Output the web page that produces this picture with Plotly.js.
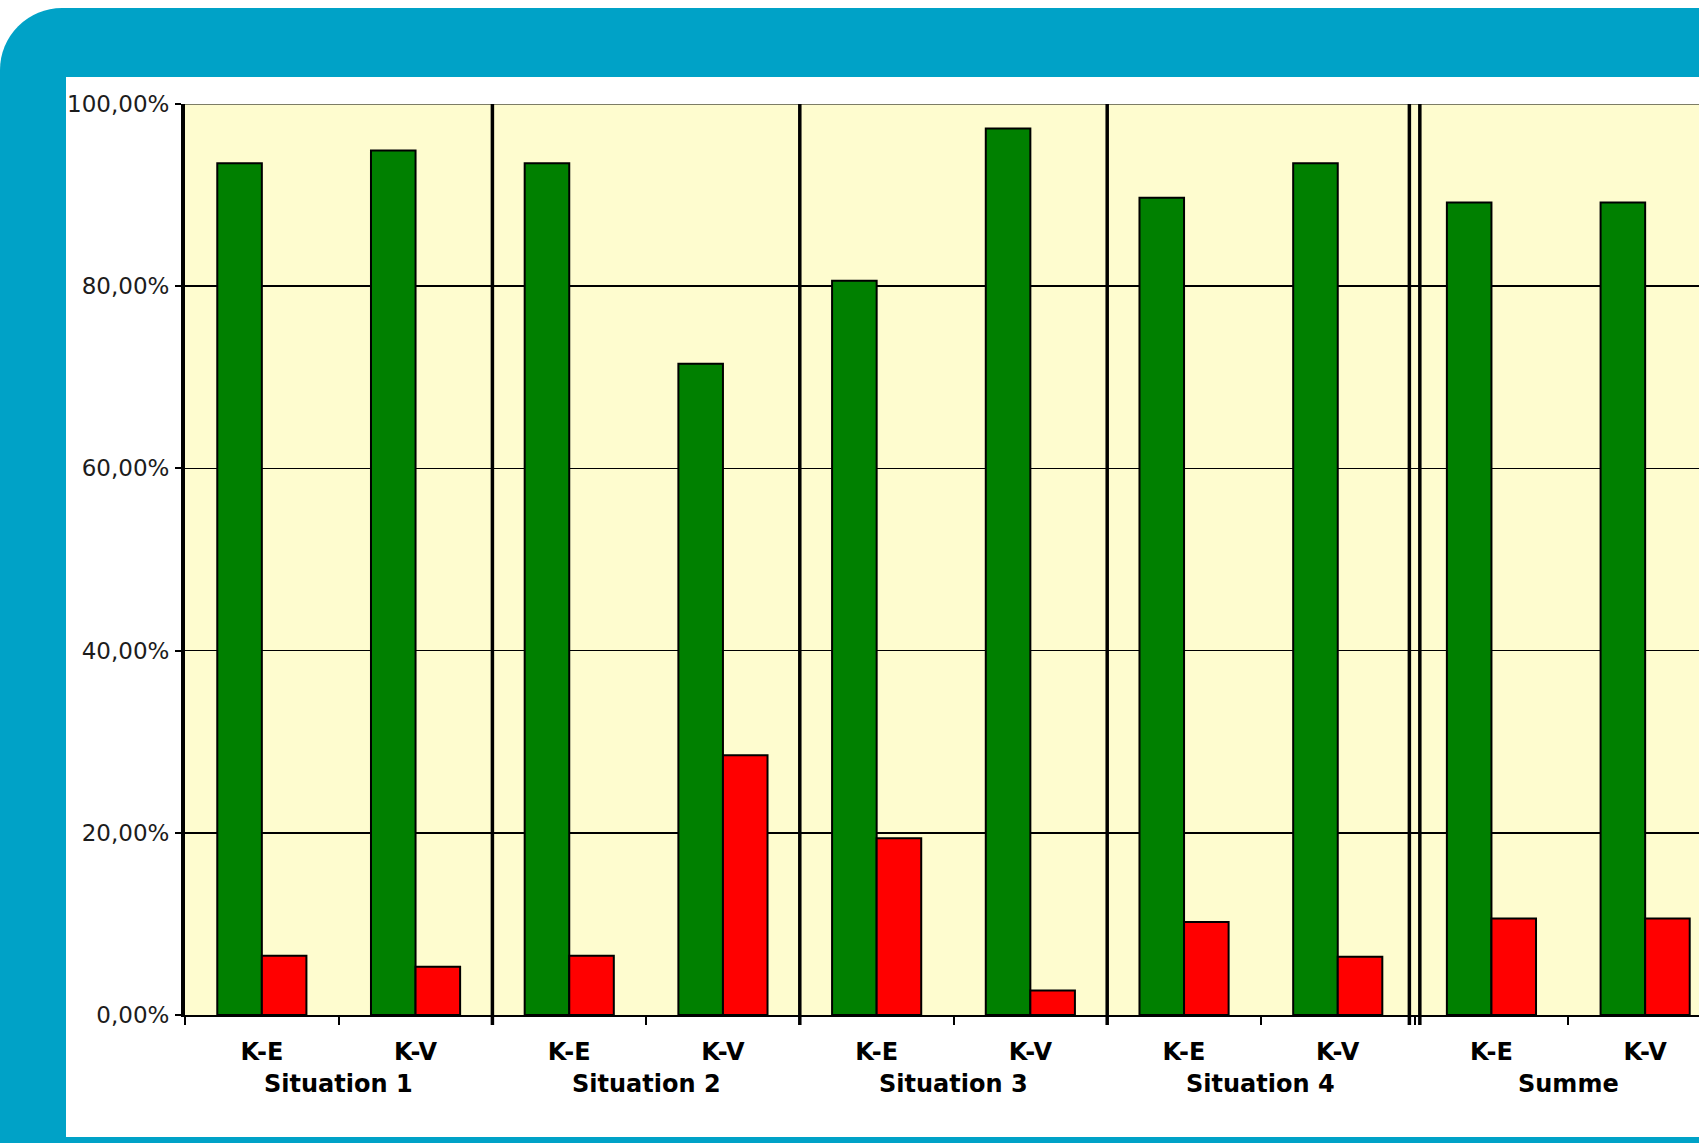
<!DOCTYPE html>
<html>
<head>
<meta charset="utf-8">
<script src="https://cdn.plot.ly/plotly-3.0.1.min.js"></script>
<style>
  html, body { margin: 0; padding: 0; width: 1699px; height: 1143px; overflow: hidden; background: #ffffff; }
  #frame { position: absolute; left: 0; top: 8px; width: 1800px; height: 1200px; background: #00A2C7; border-top-left-radius: 62px; }
  #panel { position: absolute; left: 66px; top: 77px; width: 1800px; height: 1060px; background: #ffffff; }
  #chart { position: absolute; left: 0; top: 0; width: 1700px; height: 1060px; }
</style>
</head>
<body>
<div id="frame"></div>
<div id="panel"><div id="chart"></div></div>
<script>
// ---- data ----
const groups = ['Situation 1', 'Situation 2', 'Situation 3', 'Situation 4', 'Summe'];
const subLabels = ['K-E', 'K-V'];
const greenValues = [93.5, 94.9, 93.5, 71.5, 80.6, 97.3, 89.7, 93.5, 89.2, 89.2];
const redValues   = [6.5, 5.3, 6.5, 28.5, 19.4, 2.7, 10.2, 6.4, 10.6, 10.6];
const yTickValues = [0, 20, 40, 60, 80, 100];
const yTickLabels = ['0,00%', '20,00%', '40,00%', '60,00%', '80,00%', '100,00%'];

// ---- derived category keys ----
const categories = [];
const tickTexts = [];
groups.forEach(function (g) {
  subLabels.forEach(function (s) {
    categories.push(g + ' ' + s);
    tickTexts.push(s);
  });
});

const traces = [
  {
    type: 'bar', x: categories, y: greenValues, name: 'green',
    marker: { color: '#008000', line: { color: '#000000', width: 2 } },
    hoverinfo: 'skip'
  },
  {
    type: 'bar', x: categories, y: redValues, name: 'red',
    marker: { color: '#FF0000', line: { color: '#000000', width: 2 } },
    hoverinfo: 'skip'
  }
];

// separators between groups (in category index units)
const shapes = [];
const nCat = categories.length;
const perGroup = subLabels.length;
const dbl = 0.034;
for (let gi = 1; gi < groups.length; gi++) {
  const xb = gi * perGroup - 0.5;
  const positions = (gi === groups.length - 1) ? [xb - dbl, xb + dbl] : [xb];
  positions.forEach(function (xp) {
    shapes.push({
      type: 'line', xref: 'x', yref: 'paper', x0: xp, x1: xp, y0: -0.011, y1: 1,
      line: { color: '#000000', width: 3.5 }, layer: 'above'
    });
  });
}
// top border line
shapes.push({
  type: 'line', xref: 'paper', yref: 'y', x0: 0, x1: 1, y0: 100, y1: 100,
  line: { color: '#7d7d66', width: 2 }, layer: 'between'
});

const annotations = groups.map(function (g, gi) {
  return {
    text: g, xref: 'x', yref: 'paper', x: gi * perGroup + (perGroup - 1) / 2, y: -0.0757,
    xanchor: 'center', yanchor: 'middle', showarrow: false,
    font: { family: 'DejaVu Sans', size: 24, color: '#000000', weight: 'bold' }
  };
});

const layout = {
  width: 1700, height: 1060,
  margin: { l: 119, r: 43.5, t: 26.5, b: 122, pad: 0 },
  paper_bgcolor: 'rgba(0,0,0,0)',
  plot_bgcolor: '#FEFCCF',
  showlegend: false,
  barmode: 'group',
  bargap: 0.42,
  bargroupgap: 0,
  xaxis: {
    type: 'category',
    range: [-0.5, nCat - 0.5],
    tickmode: 'array', tickvals: categories, ticktext: tickTexts,
    tickson: 'boundaries',
    ticks: 'outside', ticklen: 8, tickwidth: 2, tickcolor: '#000000',
    ticklabelstandoff: 14,
    showline: true, linecolor: '#000000', linewidth: 2,
    showgrid: false, zeroline: false,
    tickfont: { family: 'DejaVu Sans', size: 24, color: '#000000', weight: 'bold' },
    automargin: false, fixedrange: true
  },
  yaxis: {
    range: [0, 100],
    tickmode: 'array', tickvals: yTickValues, ticktext: yTickLabels,
    ticks: 'outside', ticklen: 6, tickwidth: 2, tickcolor: '#000000',
    ticklabelstandoff: 1,
    showline: true, linecolor: '#000000', linewidth: 4,
    showgrid: true, gridcolor: '#000000', gridwidth: 1.5,
    zeroline: false,
    tickfont: { family: 'DejaVu Sans', size: 23, color: '#1c1c1c' },
    automargin: false, fixedrange: true
  },
  shapes: shapes,
  annotations: annotations
};

Plotly.newPlot('chart', traces, layout, { staticPlot: true, displayModeBar: false });
</script>
</body>
</html>
